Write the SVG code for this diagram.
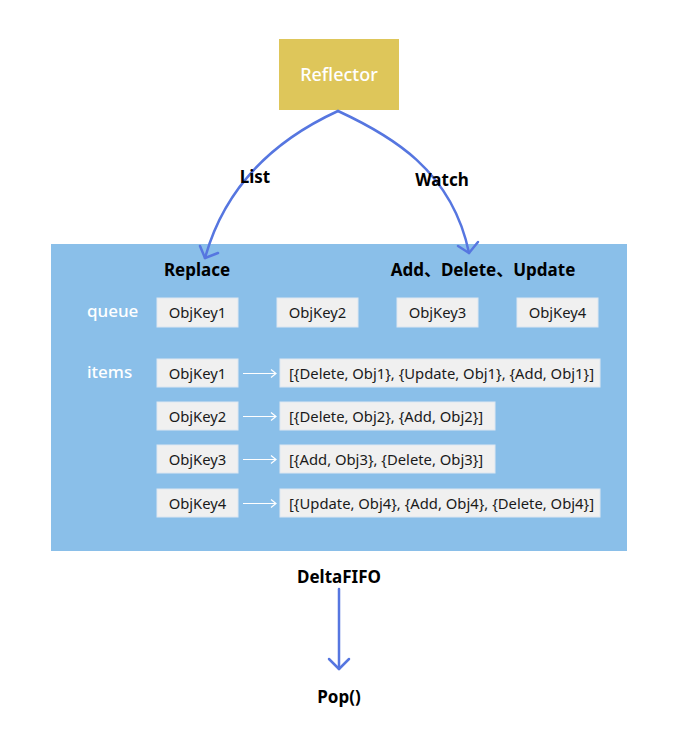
<svg xmlns="http://www.w3.org/2000/svg" width="690" height="743" viewBox="0 0 690 743">
<style>
text{font-family:"Noto Sans","Noto Sans CJK SC",sans-serif;}
.box{fill:#F0F0F0;stroke:#DDE7F1;stroke-width:1;}
.t{font-size:14.8px;fill:#1a1a1a;}
.lbl{font-size:17px;font-weight:bold;fill:#000;text-anchor:middle;}
.w{font-size:17px;fill:#fff;font-weight:500;}
.blue{fill:none;stroke:#5676E0;stroke-width:2.5;stroke-linecap:round;stroke-linejoin:round;}
.wa{fill:none;stroke:#fff;stroke-width:1.2;}
</style>
<rect width="690" height="743" fill="#fff"/>
<g id="reflector">
<rect x="279" y="39" width="120" height="71" fill="#DEC65A"/>
<text x="339" y="81" text-anchor="middle" font-size="18" font-weight="500" fill="#fff">Reflector</text>
</g>
<g id="deltafifo">
<rect x="51" y="244" width="576" height="307" fill="#8ABFE9"/>
<text class="lbl" x="197" y="276">Replace</text>
<text class="lbl" x="483" y="276">Add<tspan font-family="Noto Sans CJK SC">、</tspan>Delete<tspan font-family="Noto Sans CJK SC">、</tspan>Update</text>
<text class="w" x="87" y="317">queue</text>
<text class="w" x="87" y="378">items</text>
</g>
<g id="queue">
<rect class="box" x="157" y="298" width="81" height="29"/><text class="t" x="197.5" y="318" text-anchor="middle">ObjKey1</text>
<rect class="box" x="277" y="298" width="81" height="29"/><text class="t" x="317.5" y="318" text-anchor="middle">ObjKey2</text>
<rect class="box" x="397" y="298" width="81" height="29"/><text class="t" x="437.5" y="318" text-anchor="middle">ObjKey3</text>
<rect class="box" x="517" y="298" width="81" height="29"/><text class="t" x="557.5" y="318" text-anchor="middle">ObjKey4</text>
</g>
<g id="items">
<rect class="box" x="157" y="359" width="81" height="28"/><text class="t" x="197.5" y="378.5" text-anchor="middle">ObjKey1</text>
<rect class="box" x="280" y="359" width="320" height="28"/><text class="t" x="289" y="378.5">[{Delete, Obj1}, {Update, Obj1}, {Add, Obj1}]</text>
<rect class="box" x="157" y="402" width="81" height="28"/><text class="t" x="197.5" y="421.5" text-anchor="middle">ObjKey2</text>
<rect class="box" x="280" y="402" width="215" height="28"/><text class="t" x="289" y="421.5">[{Delete, Obj2}, {Add, Obj2}]</text>
<rect class="box" x="157" y="445" width="81" height="28"/><text class="t" x="197.5" y="464.5" text-anchor="middle">ObjKey3</text>
<rect class="box" x="280" y="445" width="215" height="28"/><text class="t" x="289" y="464.5">[{Add, Obj3}, {Delete, Obj3}]</text>
<rect class="box" x="157" y="489" width="81" height="28"/><text class="t" x="197.5" y="508.5" text-anchor="middle">ObjKey4</text>
<rect class="box" x="280" y="489" width="320" height="28"/><text class="t" x="289" y="508.5">[{Update, Obj4}, {Add, Obj4}, {Delete, Obj4}]</text>
</g>
<g id="pop">
<text class="lbl" x="339" y="583">DeltaFIFO</text>
<text class="lbl" x="339" y="703">Pop()</text>
</g>
<g id="connectors">
<path class="blue" d="M338,111 C290,133 228,175 205,258"/>
<path class="blue" d="M200,246 L205,258 L218,253"/>
<path class="blue" d="M338,111 C390,135 452,170 469,253"/>
<path class="blue" d="M458,246 L469,253 L478,242"/>
<path class="blue" d="M339,589 L339,669"/>
<path class="blue" d="M329,659 L339,669 L349,659"/>
<text class="lbl" x="255" y="183">List</text>
<text class="lbl" x="442" y="186">Watch</text>
<path class="wa" d="M243,373.5 H276 M271,369.5 L276,373.5 L271,377.5"/>
<path class="wa" d="M243,416.5 H276 M271,412.5 L276,416.5 L271,420.5"/>
<path class="wa" d="M243,459.5 H276 M271,455.5 L276,459.5 L271,463.5"/>
<path class="wa" d="M243,503.5 H276 M271,499.5 L276,503.5 L271,507.5"/>
</g>
</svg>
